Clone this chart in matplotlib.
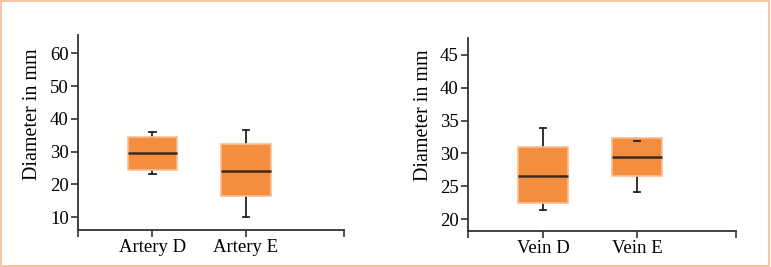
import matplotlib.pyplot as plt

# values (whisker low, q1, median, q3, whisker high)
artery_labels = ['Artery D', 'Artery E']
artery_whislo = [23.2, 10.0]
artery_q1 = [24.5, 16.5]
artery_med = [29.7, 24.2]
artery_q3 = [34.6, 32.3]
artery_whishi = [35.9, 36.7]

vein_labels = ['Vein D', 'Vein E']
vein_whislo = [21.4, 24.1]
vein_q1 = [22.4, 26.6]
vein_med = [26.6, 29.5]
vein_q3 = [31.0, 32.4]
vein_whishi = [33.9, 31.9]

plt.rcParams['font.family'] = ['Liberation Serif', 'DejaVu Serif']

fill = '#F58D3F'
edge = '#F9BE94'
axcol = '#333333'


def make_stats(labels, lo, q1, med, q3, hi):
    return [dict(label=labels[i], whislo=lo[i], q1=q1[i], med=med[i],
                 q3=q3[i], whishi=hi[i], fliers=[]) for i in range(len(labels))]


def draw(ax, stats, ylim, yticks, label_xy):
    ax.bxp(stats, positions=[1, 2], widths=0.53, patch_artist=True,
           showfliers=False, capwidths=0.07,
           boxprops=dict(facecolor=fill, edgecolor=edge, linewidth=1.2, zorder=3),
           medianprops=dict(color='#3b2a1e', linewidth=1.8, zorder=4),
           whiskerprops=dict(color='#222222', linewidth=1.3, zorder=2),
           capprops=dict(color='#222222', linewidth=1.3, zorder=4))
    ax.set_xlim(0.2, 3.05)
    ax.set_ylim(*ylim)
    ax.set_yticks(yticks)
    ax.set_xticks([0.2, 1, 2, 3.05])
    ax.set_xticklabels([''] + [s['label'] for s in stats] + [''])
    for s in ['top', 'right']:
        ax.spines[s].set_visible(False)
    for s in ['left', 'bottom']:
        ax.spines[s].set_color(axcol)
        ax.spines[s].set_linewidth(1.3)
    ax.tick_params(axis='both', colors=axcol, labelcolor='black',
                   labelsize=13.5, width=1.2, length=5, pad=1.5)
    ax.set_ylabel('Diameter in mm', fontsize=14.5)
    ax.yaxis.set_label_coords(*label_xy)


fig = plt.figure(figsize=(7.71, 2.67), dpi=100)
fig.patches.append(plt.Rectangle((0.001, 0.002), 0.997, 0.994,
                                 transform=fig.transFigure, fill=False,
                                 edgecolor='#F8BA8E', linewidth=1.2))

ax1 = fig.add_axes([0.1008, 0.1386, 0.3454, 0.7303])
draw(ax1, make_stats(artery_labels, artery_whislo, artery_q1, artery_med,
                     artery_q3, artery_whishi),
     (6.1, 65.6), [10, 20, 30, 40, 50, 60], (-0.135, 0.595))

ax2 = fig.add_axes([0.6066, 0.1348, 0.348, 0.724])
draw(ax2, make_stats(vein_labels, vein_whislo, vein_q1, vein_med,
                     vein_q3, vein_whishi),
     (18.2, 47.6), [20, 25, 30, 35, 40, 45], (-0.13, 0.6))

fig.savefig('out.png', dpi=100)
